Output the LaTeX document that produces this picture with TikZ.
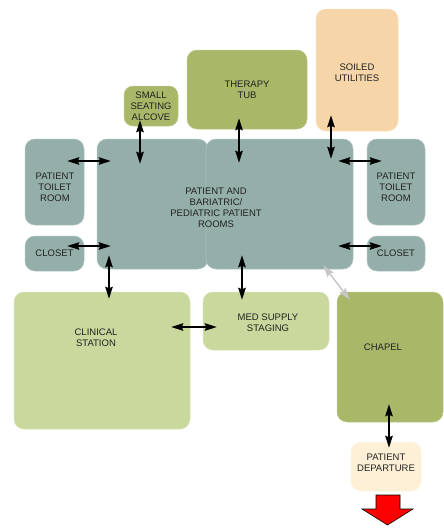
\documentclass[tikz,border=0pt]{standalone}
\usepackage{fontspec}
\setmainfont{Liberation Sans}
\usetikzlibrary{arrows.meta,calc}
\definecolor{roomgray}{HTML}{94AFAA}
\definecolor{olive}{HTML}{A8B868}
\definecolor{palegreen}{HTML}{C9D89C}
\definecolor{peach}{HTML}{F6D6A8}
\definecolor{cream}{HTML}{FDF0D6}
\definecolor{ink}{HTML}{222222}
\tikzset{
  area/.style={rounded corners=10pt, inner sep=0pt, text=ink, align=center,
    font=\fontsize{9.5}{11}\selectfont, draw=#1!75!white, line width=0.5pt, fill=#1},
  lbl/.style={inner sep=0pt, text=ink, align=center, font=\fontsize{9.5}{11}\selectfont},
  sz/.style n args={2}{minimum width=#1pt, minimum height=#2pt},
  link/.style={line width=1.4pt, >={Stealth[length=12pt,width=7.5pt,inset=1.5pt]}, <->},
  softlink/.style={link, draw=gray!45}
}
\begin{document}
\begin{tikzpicture}[x=1pt,y=-1pt]
\useasboundingbox (0,0) rectangle (444,528);

% rooms and spaces
\node[area=olive, sz={54}{40}, rounded corners=9pt] (alcove) at (151,106) {SMALL\\SEATING\\ALCOVE};
\node[area=olive, sz={120}{79}] (tub) at (247,89.5) {THERAPY\\TUB};
\node[area=peach, sz={82}{122}] (soiled) at (357,70) {};
\node[lbl] (soiledtxt) at (357,73) {SOILED\\UTILITIES};
\node[area=roomgray, sz={59}{86}] (ltoilet) at (54.5,182) {};
\node[lbl] (ltoilettxt) at (55,187) {PATIENT\\TOILET\\ROOM};
\node[area=roomgray, sz={59}{35}] (lcloset) at (54.5,253.5) {CLOSET};
\node[area=roomgray, sz={111}{130}] (rooml) at (152.5,204) {};
\node[area=roomgray, sz={147}{130}] (roomr) at (279.5,204) {};
\node[lbl] (roomtxt) at (216,208) {PATIENT AND\\BARIATRIC/\\PEDIATRIC PATIENT\\ROOMS};
\node[area=roomgray, sz={58}{86}] (rtoilet) at (396,182) {};
\node[lbl] (rtoilettxt) at (396,187) {PATIENT\\TOILET\\ROOM};
\node[area=roomgray, sz={58}{35}] (rcloset) at (396,253.5) {CLOSET};
\node[area=palegreen, sz={176}{137}] (clinical) at (102,360.5) {};
\node[lbl] (clinicaltxt) at (96,337.5) {CLINICAL\\STATION};
\node[area=palegreen, sz={126}{58}] (med) at (266,321) {};
\node[lbl] (medtxt) at (268,322.5) {MED SUPPLY\\STAGING};
\node[area=olive, sz={106}{130}] (chapel) at (390,357) {};
\node[lbl] (chapeltxt) at (383,347) {CHAPEL};
\node[area=cream, sz={70}{49}] (depart) at (386,466.5) {};
\node[lbl] (departtxt) at (386,462.5) {PATIENT\\DEPARTURE};

% exit arrow below the departure area
\draw[fill=red, draw=black, line width=0.6pt]
  (376,495) -- (400,495) -- (400,509) -- (413,509) -- (387.5,525)
  -- (362,509) -- (376,509) -- cycle;

% circulation links
\draw[link] ($(ltoilet.east)+(-17,-21)$) -- ($(rooml.west)+(14,-43)$);
\draw[link] ($(lcloset.east)+(-17,-7.5)$) -- ($(rooml.west)+(14,42)$);
\draw[link] ($(alcove.south)+(-11,-6)$) -- ($(rooml.north)+(-12.5,25)$);
\draw[link] ($(tub.south)+(-8,-11)$) -- ($(roomr.north)+(-40.5,24)$);
\draw[link] ($(soiled.south)+(-26,-16)$) -- ($(roomr.north)+(51.5,20)$);
\draw[link] ($(roomr.east)+(-15,-43)$) -- ($(rtoilet.west)+(15,-21)$);
\draw[link] ($(roomr.east)+(-15,42)$) -- ($(rcloset.west)+(15,-7.5)$);
\draw[link] ($(rooml.south)+(-43.5,-14)$) -- ($(clinical.north)+(7,7)$);
\draw[link] ($(roomr.south)+(-37.5,-14)$) -- ($(med.north)+(-24,8)$);
\draw[link] ($(clinical.east)+(-19,-33.5)$) -- ($(med.west)+(14,6)$);
\draw[link] ($(chapel.south)+(-1,-18)$) -- ($(depart.north)+(3,6)$);
\draw[softlink] ($(roomr.south east)+(-30,-4)$) -- ($(chapel.north west)+(13,8)$);
\end{tikzpicture}
\end{document}
